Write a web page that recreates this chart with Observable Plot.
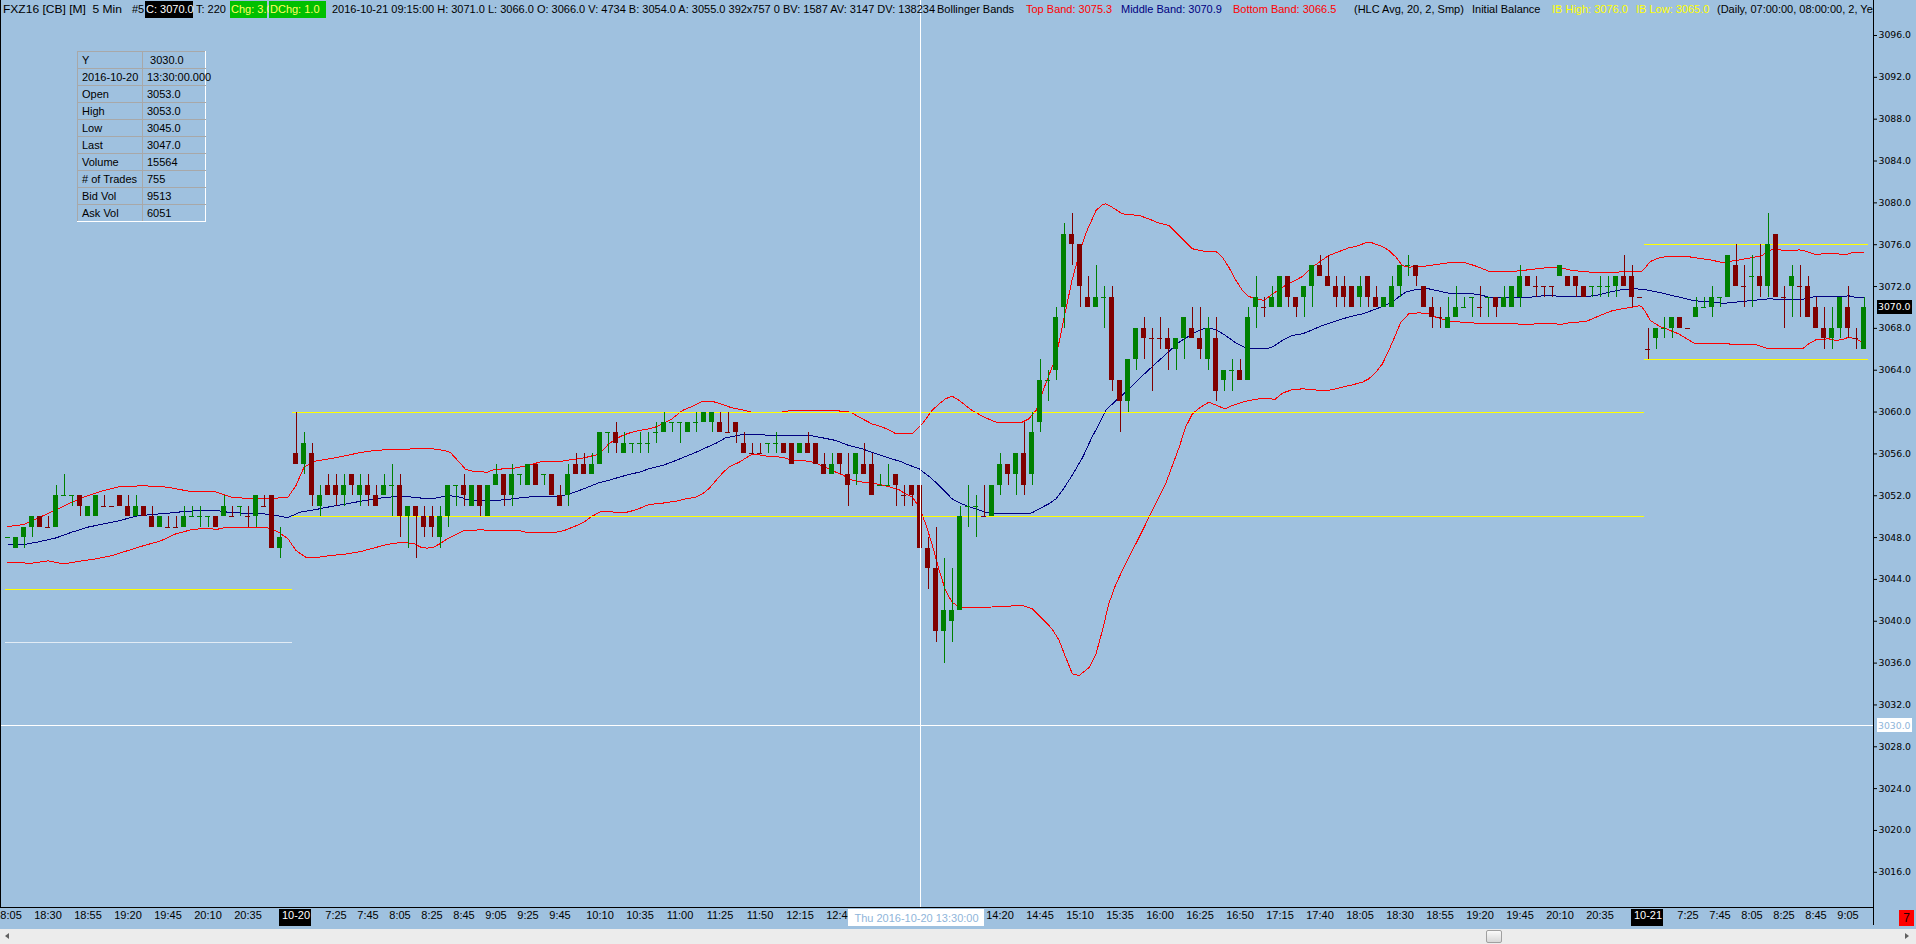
<!DOCTYPE html>
<html>
<head>
<meta charset="utf-8">
<script src="https://cdn.jsdelivr.net/npm/d3@7"></script>
<script src="https://cdn.jsdelivr.net/npm/@observablehq/plot@0.6"></script>
<style>
html, body { margin:0; padding:0; }
body { width:1916px; height:944px; overflow:hidden; position:relative; background:#9fc1df; font-family:"Liberation Sans", Arial, sans-serif; font-size:11px; }
#chart { position:absolute; left:0; top:0; }
#hdr { position:absolute; left:0; top:0; width:1873px; height:20px; overflow:hidden; white-space:nowrap; pointer-events:none; }
#hdr span { position:absolute; top:1px; height:17px; line-height:17px; font-size:11px; color:#000; white-space:pre; transform-origin:0 50%; }
#info { position:absolute; left:77px; top:51px; border-collapse:collapse; table-layout:fixed; width:129px; font-size:11px; }
#info td { border:1px solid #a8a8a8; height:16px; padding:0 0 0 4px; white-space:nowrap; overflow:visible; line-height:16px; color:#000; }
#info td:first-child { width:60px; }
#info tr td:last-child { border-right:1px solid #ffffff; }
#info tr:last-child td { border-bottom:1px solid #ffffff; }
#sb { position:absolute; left:0; top:929px; width:1916px; height:15px; background:#ececec; }
#thumb { position:absolute; left:1486px; top:1px; width:14px; height:11px; background:linear-gradient(#fafafa,#d8d8d8); border:1px solid #a0a0a0; border-radius:2px; }
#la { position:absolute; left:5px; top:4px; width:0; height:0; border-top:3px solid transparent; border-bottom:3px solid transparent; border-right:4px solid #606060; }
#ra { position:absolute; left:1905px; top:4px; width:0; height:0; border-top:3px solid transparent; border-bottom:3px solid transparent; border-left:4px solid #606060; }
#seven { position:absolute; left:1899px; top:910px; width:15px; height:16px; background:#ff0000; color:#200; font-size:12px; text-align:center; line-height:16px; }
</style>
</head>
<body>
<div id="chart"></div>
<div id="hdr">
<span data-w="119" style="left:3px">FXZ16 [CB] [M]  5 Min</span>
<span style="left:132px">#5</span>
<span style="left:145px;width:47px;background:#000;color:#fff;padding-left:1px">C: 3070.0</span>
<span style="left:196px">T: 220</span>
<span style="left:230px;width:36px;background:#00c000;color:#ffff60;padding-left:1px">Chg: 3.0</span>
<span style="left:269px;width:56px;background:#00c000;color:#ffff60;padding-left:1px">DChg: 1.0</span>
<span style="left:332px">2016-10-21 09:15:00 H: 3071.0 L: 3066.0 O: 3066.0 V: 4734 B: 3054.0 A: 3055.0 392x757 0 BV: 1587 AV: 3147 DV: 138234</span>
<span style="left:937px">Bollinger Bands</span>
<span style="left:1026px;color:#ff0000">Top Band: 3075.3</span>
<span style="left:1121px;color:#000080">Middle Band: 3070.9</span>
<span style="left:1233px;color:#ff0000">Bottom Band: 3066.5</span>
<span style="left:1354px">(HLC Avg, 20, 2, Smp)</span>
<span style="left:1472px">Initial Balance</span>
<span style="left:1552px;color:#ffff00">IB High: 3076.0</span>
<span style="left:1636px;color:#ffff00">IB Low: 3065.0</span>
<span style="left:1717px">(Daily, 07:00:00, 08:00:00, 2, Yes)</span>
</div>
<table id="info"></table>
<div id="seven">7</div>
<div id="sb"><div id="la"></div><div id="thumb"></div><div id="ra"></div></div>
<script>
// ---------------- DATA ----------------
const open = [
3048,3047,3048,3049,3050,3049,3049,3052,3052,3052,
3050,3050,3051,3051,3052,3051,3050,3051,3050,3049,
3049,3049,3049,3050,3050,3050,3050,3050,3050,3051,
3050,3050,3051,3052,3047,null,3056,3055,3056,3051,
3053,3053,3052,3054,3052,3053,3052,3052,3053,3053,
3050,3051,3050,3050,3048,3050,3053,3053,3051,3053,
3050,3053,3054,3052,3054,3053,3055,3054,3054,3052,
3052,3055,3055,3054,3055,3058,3058,3056,3057,3057,
3057,3058,3058,3059,3059,3058,3059,3059,3059,3059,
3058,3059,3057,3056,3056,3057,3057,3057,3057,3056,
3057,3057,3055,3054,3056,3054,3054,3055,3055,3053,
3053,3054,3052,3053,3053,3047,3045,3039,3040,3041,
3051,3051,3050,3050,3053,3055,3054,3056,3054,3059,
3063,3064,3070,3077,3076,3071,3070,3071,3071,3063,
3061,3065,3068,3067,3067,3067,3066,3067,3068,3067,
3065,3067,3063,3064,3064,3063,3070,3070,3070,3070,
3073,3071,3071,3072,3074,3073,3072,3072,3072,3071,
3073,3071,3070,3070,3072,3074,3074,3072,3070,3069,
3068,3069,3070,3071,3070,3071,3071,3070,3070,3071,
3073,3072,3072,3072,3073,3073,3073,3072,3072,3072,
3072,3072,3073,3073,3071,3066,3067,3068,3068,3069,
3068,3069,3070,3070,3071,3071,3074,3072,3073,3073,
3072,3077,3071,3072,3072,3072,3070,3068,3067,3068,
3070,3067,3066];
const high = [
3048,3048,3049,3050,3050,3050,3053,3054,3052,3052,
3051,3052,3052,3051,3052,3052,3052,3051,3051,3050,
3050,3050,3051,3051,3051,3050,3050,3052,3051,3051,
3051,3052,3052,3052,3049,null,3060,3058,3057,3053,
3054,3054,3054,3054,3054,3054,3053,3054,3055,3054,
3051,3051,3051,3051,3051,3053,3053,3054,3053,3053,
3053,3055,3054,3055,3054,3055,3055,3054,3054,3053,
3055,3056,3056,3056,3058,3058,3059,3058,3057,3058,
3058,3059,3060,3059,3059,3059,3060,3060,3060,3060,
3060,3059,3058,3057,3057,3057,3058,3057,3057,3057,
3058,3057,3056,3056,3056,3056,3056,3057,3056,3054,
3055,3054,3053,3053,3053,3048,3049,3046,3045,3051,
3053,3052,3053,3053,3056,3055,3056,3059,3060,3065,
3064,3070,3078,3079,3076,3073,3074,3072,3072,3063,
3065,3068,3069,3068,3069,3068,3067,3069,3070,3070,
3069,3069,3064,3065,3065,3070,3073,3071,3072,3073,
3073,3071,3072,3074,3075,3075,3073,3073,3072,3073,
3073,3072,3071,3073,3074,3075,3074,3072,3071,3070,
3071,3072,3071,3071,3072,3071,3071,3072,3072,3074,
3073,3073,3072,3072,3074,3073,3073,3072,3072,3073,
3073,3073,3075,3074,3071,3068,3068,3069,3069,3069,
3068,3071,3071,3072,3071,3075,3076,3074,3075,3076,
3079,3077,3072,3074,3074,3073,3071,3070,3070,3071,
3072,3068,3071];
const low = [
3048,3047,3047,3048,3049,3049,3049,3052,3051,3050,
3050,3050,3051,3051,3051,3050,3050,3050,3049,3049,
3049,3049,3049,3050,3049,3049,3049,3050,3050,3050,
3049,3049,3051,3047,3046,null,3055,3054,3051,3050,
3052,3051,3051,3052,3051,3051,3051,3052,3050,3048,
3047,3046,3048,3048,3047,3049,3051,3051,3051,3050,
3050,3053,3051,3051,3053,3053,3053,3053,3052,3051,
3051,3054,3054,3054,3055,3056,3056,3056,3056,3056,
3056,3057,3058,3058,3057,3058,3058,3059,3058,3058,
3058,3057,3056,3056,3056,3056,3056,3056,3055,3056,
3056,3055,3054,3054,3054,3051,3053,3054,3052,3053,
3053,3051,3051,3051,3045,3043,3038,3036,3038,3041,
3049,3048,3050,3050,3052,3053,3052,3052,3053,3058,
3061,3063,3068,3074,3070,3070,3070,3068,3062,3058,
3060,3064,3065,3062,3066,3064,3064,3065,3067,3065,
3064,3061,3062,3062,3063,3063,3068,3069,3070,3070,
3070,3069,3069,3070,3073,3072,3070,3070,3070,3070,
3070,3070,3070,3070,3071,3073,3072,3070,3068,3068,
3068,3069,3070,3069,3069,3069,3069,3070,3070,3070,
3072,3071,3071,3071,3073,3072,3071,3071,3071,3071,
3071,3071,3072,3070,3071,3065,3066,3067,3067,3068,
3068,3069,3070,3069,3070,3071,3072,3070,3070,3071,
3071,3071,3068,3069,3069,3069,3068,3066,3066,3067,
3067,3066,3066];
const close = [
3048,3048,3049,3050,3049,3049,3052,3052,3052,3051,
3051,3052,3051,3051,3051,3050,3051,3050,3049,3050,
3049,3049,3050,3050,3050,3050,3049,3051,3050,3051,
3050,3052,3051,3047,3048,null,3055,3057,3052,3052,
3052,3052,3053,3053,3053,3052,3051,3053,3053,3050,
3051,3050,3049,3049,3050,3053,3053,3052,3053,3051,
3053,3054,3052,3054,3054,3055,3053,3054,3052,3051,
3054,3054,3054,3055,3058,3058,3057,3057,3057,3057,
3057,3058,3059,3059,3059,3059,3059,3060,3060,3058,
3058,3058,3056,3056,3056,3057,3057,3056,3055,3057,
3056,3055,3054,3055,3055,3053,3056,3054,3052,3053,
3053,3053,3052,3052,3047,3045,3039,3041,3041,3050,
3051,3051,3050,3053,3055,3054,3056,3053,3058,3063,
3063,3069,3077,3076,3072,3070,3071,3071,3063,3061,
3065,3068,3067,3067,3067,3066,3067,3069,3067,3066,
3068,3062,3064,3064,3063,3069,3071,3070,3071,3073,
3071,3070,3072,3074,3073,3072,3071,3071,3070,3072,
3071,3070,3071,3072,3074,3074,3073,3070,3069,3069,
3069,3070,3070,3071,3070,3071,3070,3071,3072,3073,
3072,3072,3072,3072,3074,3072,3072,3071,3072,3072,
3072,3073,3072,3071,3071,3066,3068,3068,3069,3068,
3068,3070,3070,3071,3071,3075,3072,3072,3073,3072,
3076,3071,3071,3073,3072,3069,3068,3067,3068,3071,
3068,3067,3070];

// Bollinger band traces (bar index, price)
const topI = [0,2,4,6,8,10,12,14,17,20,23,26,28,30,33,35,36,37,38.3,40.8,44.1,45.8,47.8,50.8,53.2,54.5,55.3,56.6,57.2,58.3,59.9,60.8,63.3,64.9,66.6,68.7,70.3,72.0,73.7,74.3,75.1,76.0,76.8,77.6,78.9,80.1,80.9,81.8,83.0,84.3,85.5,86.8,88.0,89.3,90.5,91.8,93.0,96.6,97.6,103.7,105.3,106.8,108.0,109.3,110.1,111.0,113.05,114.3,115.5,116.4,117.2,118.0,118.9,120.5,122.2,123.5,124.3,126.8,127.6,128.5,129.7,131.0,132.2,133.0,133.9,134.7,136.0,136.8,137.2,138.0,139.3,141.4,142.6,143.9,145.1,146.4,148.05,149.7,151.0,151.8,152.6,153.5,154.3,155.1,156.0,157.0,158.0,159.3,160.5,161.8,163.05,163.9,165.1,166.4,167.6,168.5,169.7,170.5,171.8,172.6,173.5,174.3,175.1,176.0,177.2,178.5,180.1,182.2,183.5,185.1,188.5,189.7,191.0,192.2,193.5,194.3,195.1,196.4,198.9,201.0,201.8,203.5,204.2,204.7,205.3,206.4,207.6,209.7,210.5,211.8,212.6,213.5,214.3,215.1,216.0,217.6,219.3,220.1,221.0,221.8,223.05,223.9,224.7,226.0,226.8,228.5,229.7,230.5,232.0];
const topV = [3049.06,3049.25,3049.95,3050.65,3051.39,3052.02,3052.5,3052.88,3052.95,3052.82,3052.37,3052.37,3051.86,3051.74,3051.74,3051.86,3052.98,3054.73,3055.3,3055.62,3056.13,3056.33,3056.42,3056.48,3056.48,3056.33,3056.13,3055.05,3054.51,3054.32,3054.25,3054.51,3054.64,3054.89,3055.24,3055.24,3055.43,3055.62,3055.94,3056.32,3056.96,3057.44,3057.76,3057.98,3058.24,3058.4,3058.56,3058.87,3059.35,3060.15,3060.53,3061.04,3061.04,3060.72,3060.4,3060.21,3059.99,3059.99,3060.12,3060.12,3059.99,3059.35,3058.87,3058.56,3058.3,3057.92,3057.92,3058.87,3060.15,3060.79,3061.27,3061.52,3061.11,3060.15,3059.45,3059.04,3058.97,3059.04,3059.35,3060.15,3062.7,3065.25,3069.71,3072.58,3075.13,3077.04,3079.27,3079.81,3079.91,3079.59,3078.95,3078.79,3078.47,3078.06,3077.84,3076.88,3075.61,3075.35,3075.35,3074.81,3073.85,3072.58,3071.62,3071.05,3070.83,3070.67,3071.24,3071.94,3072.42,3072.96,3073.85,3074.33,3074.97,3075.35,3075.7,3075.83,3076.18,3076.18,3075.83,3075.45,3074.81,3074.01,3073.85,3073.92,3073.95,3074.11,3074.27,3074.27,3073.95,3073.47,3073.47,3073.57,3073.69,3073.79,3073.79,3073.76,3073.6,3073.47,3073.31,3073.31,3073.47,3073.47,3073.44,3073.85,3074.4,3074.74,3074.9,3074.87,3074.81,3074.65,3074.59,3074.43,3074.3,3074.4,3074.49,3074.71,3074.97,3075.45,3075.6,3075.45,3075.41,3075.51,3075.38,3075.06,3075.13,3075.13,3075.06,3075.22,3075.22];
const midI = [0,2,4,6,8,10,12,14,16,18,20,22,24,26,28,30,32,34,34.9,35.75,36.5,38.3,39.5,40.8,42.4,44.1,45.8,47.4,49.1,50.8,52.0,53.2,54.5,55.3,56.6,57.4,59.1,60.8,62.4,64.1,65.8,67.4,69.1,69.9,70.8,71.6,72.5,73.7,74.7,76.0,77.6,78.9,80.1,81.8,83.5,84.7,86.0,87.2,88.5,89.7,90.5,91.8,93.5,95.1,97.6,100.5,101.8,103.5,105.1,106.8,108.5,110.1,111.8,112.2,113.9,115.5,116.8,118.0,118.9,120.5,122.2,123.9,127.2,128.0,128.9,130.1,131.0,131.8,133.0,134.3,135.5,136.4,137.2,138.5,139.7,141.4,143.05,144.7,146.4,148.05,149.3,150.1,151.0,152.2,153.5,154.7,156.0,157.2,158.0,159.3,160.5,161.8,163.05,164.3,165.5,166.8,168.05,169.3,170.5,171.8,173.05,173.9,174.7,176.0,177.6,178.9,180.1,182.2,183.9,185.1,187.2,189.7,191.0,192.2,194.7,197.2,198.5,199.3,200.6,201.8,203.05,204.3,205.55,206.8,208.05,209.3,210.55,211.8,213.5,214.3,216.0,217.6,219.3,220.1,221.8,224.3,225.1,226.0,227.6,229.3,230.1,231.0,232.0];
const midV = [3047.34,3047.34,3047.62,3047.97,3048.52,3049.0,3049.31,3049.63,3050.05,3050.21,3050.33,3050.49,3050.59,3050.59,3050.37,3050.33,3050.27,3050.05,3049.89,3050.17,3050.43,3050.65,3050.84,3051.03,3051.23,3051.48,3051.7,3051.86,3051.93,3051.86,3051.74,3051.74,3051.93,3051.99,3051.86,3051.61,3051.54,3051.54,3051.64,3051.8,3051.93,3051.96,3051.96,3052.12,3052.34,3052.56,3052.82,3053.2,3053.39,3053.68,3054.03,3054.25,3054.57,3054.89,3055.37,3055.75,3056.16,3056.58,3057.02,3057.54,3057.66,3057.85,3057.85,3057.79,3057.79,3057.73,3057.54,3057.28,3056.8,3056.48,3056.01,3055.62,3055.21,3055.05,3054.57,3053.62,3052.66,3051.71,3051.32,3050.85,3050.43,3050.27,3050.27,3050.37,3050.75,3051.23,3051.71,3052.5,3053.93,3055.62,3057.6,3058.87,3060.15,3061.11,3061.9,3063.18,3064.36,3065.5,3066.68,3067.48,3067.93,3068.05,3067.86,3067.32,3066.59,3066.14,3066.04,3066.04,3066.2,3066.84,3067.32,3067.48,3067.86,3068.28,3068.59,3068.91,3069.17,3069.39,3069.71,3070.09,3070.51,3071.05,3071.46,3071.72,3071.78,3071.56,3071.37,3071.37,3071.24,3070.98,3070.98,3070.92,3071.05,3071.14,3071.05,3071.05,3071.14,3071.3,3071.53,3071.72,3071.78,3071.75,3071.56,3071.37,3071.14,3070.92,3070.67,3070.57,3070.51,3070.38,3070.51,3070.63,3070.76,3070.83,3070.76,3070.76,3070.92,3071.05,3071.05,3071.05,3071.11,3070.95,3070.92];
const botI = [0,3,5,7,9,11,13,15,17,19,21,23,25,26,27,30,32,33,34,35,36,37.2,38.3,40.3,42.4,44.1,45.8,47.4,49.1,49.9,50.8,51.6,52.4,53.2,54.1,54.9,55.8,57.0,59.1,60.8,64.1,64.9,68.3,69.5,70.8,72.0,72.8,74.1,75.1,76.0,77.2,78.5,80.1,81.8,83.5,84.7,86.0,86.8,87.6,88.5,89.3,90.1,91.4,92.6,93.0,93.9,95.1,96.8,98.0,100.1,101.0,102.2,103.5,104.3,105.6,106.8,108.5,110.1,111.4,112.2,113.05,113.9,114.7,115.5,116.4,117.2,118.0,118.9,122.6,126.8,128.05,129.7,130.5,131.4,132.2,133.05,133.9,135.2,136.0,136.8,137.6,138.5,139.7,141.4,143.05,144.7,146.4,147.2,148.05,148.9,150.1,151.4,152.2,153.05,153.9,155.1,156.4,157.6,158.3,159.3,160.5,161.8,163.05,164.3,165.5,166.8,168.05,169.3,170.1,171.0,171.8,172.6,173.5,174.1,175.1,176.4,177.6,178.5,180.1,181.8,183.5,185.1,186.0,188.5,189.7,191.0,193.5,193.9,195.1,197.2,198.05,199.3,200.6,201.8,203.05,203.9,204.2,204.7,205.3,206.4,207.6,208.8,210.05,210.9,213.5,214.3,216.0,218.5,220.1,224.3,225.1,226.0,227.6,228.5,229.3,230.1,231.0,232.0];
const botV = [3045.62,3045.55,3045.77,3045.49,3045.74,3045.97,3046.28,3046.76,3047.24,3047.66,3048.36,3048.77,3048.9,3048.77,3048.93,3049.0,3049.0,3048.84,3048.42,3047.88,3046.76,3046.13,3046.06,3046.28,3046.44,3046.67,3047.02,3047.34,3047.53,3047.5,3047.4,3047.08,3046.99,3047.08,3047.46,3047.88,3048.23,3048.67,3048.74,3048.67,3048.64,3048.49,3048.49,3048.67,3049.06,3049.47,3049.95,3050.49,3050.52,3050.4,3050.4,3050.65,3051.16,3051.29,3051.48,3051.7,3051.86,3052.18,3052.66,3053.46,3054.16,3054.73,3055.21,3055.78,3055.94,3055.91,3055.75,3055.69,3055.37,3055.31,3055.11,3054.73,3054.25,3054.0,3053.46,3053.3,3053.14,3052.88,3052.56,3052.18,3051.86,3050.91,3049.32,3047.4,3044.85,3042.94,3041.83,3041.35,3041.35,3041.51,3041.19,3039.92,3039.28,3038.16,3036.57,3034.97,3034.82,3035.61,3036.89,3039.12,3041.67,3043.58,3045.49,3048.04,3050.59,3053.14,3056.64,3058.56,3059.83,3060.37,3060.95,3060.53,3060.31,3060.63,3060.85,3061.11,3061.27,3061.33,3061.17,3061.81,3062.13,3062.22,3062.16,3062.03,3062.13,3062.38,3062.6,3062.86,3063.18,3063.82,3064.61,3065.89,3067.48,3068.59,3069.39,3069.49,3069.39,3069.07,3068.69,3068.59,3068.5,3068.5,3068.44,3068.44,3068.34,3068.44,3068.44,3068.34,3068.53,3068.66,3068.91,3069.33,3069.71,3069.87,3070.03,3070.16,3070.09,3069.55,3068.75,3068.21,3067.86,3067.48,3066.91,3066.52,3066.52,3066.59,3066.43,3066.43,3066.05,3066.05,3066.52,3066.91,3067.0,3066.84,3066.94,3067.16,3067.0,3066.59];

// Initial balance (per session): start/end bar, IB high, IB low
const ibStart = [-0.3, 35.56, 204.5];
const ibEnd   = [35.56, 204.5, 232.5];
const ibHigh  = [3043, 3060, 3076];
const ibLow   = [3038, 3050, 3065];

// time axis labels (bar index -> label); labels hidden under the cursor tag are omitted
const xTickIdx = [0,5,10,15,20,25,30,36,41,45,49,53,57,61,65,69,74,79,84,89,94,99,104,124,129,134,139,144,149,154,159,164,169,174,179,184,189,194,199,205,210,214,218,222,226,230];
const xTickLabels = ["18:05","18:30","18:55","19:20","19:45","20:10","20:35","10-20","7:25","7:45","8:05","8:25","8:45","9:05","9:25","9:45","10:10","10:35","11:00","11:25","11:50","12:15","12:40","14:20","14:45","15:10","15:35","16:00","16:25","16:50","17:15","17:40","18:05","18:30","18:55","19:20","19:45","20:10","20:35","10-21","7:25","7:45","8:05","8:25","8:45","9:05"];
const dayLabels = ["10-20","10-21"];
const yTicks = [3016,3020,3024,3028,3032,3036,3040,3044,3048,3052,3056,3060,3064,3068,3072,3076,3080,3084,3088,3092,3096];

// cursor
const crossI = 114, crossV = 3030, crossText = "Thu 2016-10-20 13:30:00";
const lastPrice = 3070;
const infoExtra = {date:"2016-10-20", time:"13:30:00.000", volume:"15564", trades:"755", bidVol:"9513", askVol:"6051"};

// ---------------- BUILD ----------------
const UP = "#008000", DN = "#800000";
const bars = [];
let prevC = null, prevUp = true;
for (let i = 0; i < open.length; i++) {
  if (open[i] == null) continue;
  const o = open[i], h = high[i], l = low[i], c = close[i];
  let up;
  if (c > o) up = true; else if (c < o) up = false;
  else if (prevC == null) up = true;
  else if (c > prevC) up = true; else if (c < prevC) up = false; else up = prevUp;
  bars.push({i, o, h, l, c, col: up ? UP : DN});
  prevC = c; prevUp = up;
}
const pts = (I, V) => I.map((i, k) => ({i, v: V[k]}));
const ib = ibStart.map((s, k) => ({a: s, b: ibEnd[k], hi: ibHigh[k], lo: ibLow[k], k}));
const HW = 0.3125;
const CR = "crispEdges";

const plot = Plot.plot({
  width: 1916, height: 929,
  marginLeft: 0, marginRight: 43, marginTop: 20, marginBottom: 22,
  x: {type: "linear", domain: [-0.9375, 233.1875], axis: null},
  y: {type: "linear", domain: [3012.635, 3097.434], axis: null, label: null},
  color: {type: "identity"},
  style: {background: "transparent", fontFamily: "DejaVu Sans", fontSize: "9.3px", color: "#000", overflow: "visible"},
  marks: [
    Plot.line(pts(topI, topV), {x: "i", y: "v", stroke: "#ff0000", strokeWidth: 1, shapeRendering: CR}),
    Plot.line(pts(botI, botV), {x: "i", y: "v", stroke: "#ff0000", strokeWidth: 1, shapeRendering: CR}),
    Plot.line(pts(midI, midV), {x: "i", y: "v", stroke: "#000080", strokeWidth: 1, shapeRendering: CR}),
    Plot.ruleY(ib, {y: "hi", x1: "a", x2: "b", stroke: "#ffff00", strokeWidth: 1, shapeRendering: CR}),
    Plot.ruleY(ib, {y: "lo", x1: "a", x2: "b", stroke: d => d.k === 0 ? "#e2ecf5" : "#ffff00", strokeWidth: 1, shapeRendering: CR}),
    Plot.ruleX(bars, {x: "i", y1: "l", y2: "h", stroke: "col", strokeWidth: 1, shapeRendering: CR}),
    Plot.rect(bars.filter(d => d.o !== d.c), {x1: d => d.i - HW, x2: d => d.i + HW, y1: "o", y2: "c", fill: "col", shapeRendering: CR}),
    Plot.ruleY(bars.filter(d => d.o === d.c), {y: "o", x1: d => d.i - HW, x2: d => d.i + HW, stroke: "col", strokeWidth: 1, shapeRendering: CR}),
    Plot.ruleX([crossI], {x: d => d, stroke: "#ffffff", strokeWidth: 1, insetTop: -20, shapeRendering: CR}),
    Plot.ruleY([crossV], {y: d => d, stroke: "#ffffff", strokeWidth: 1, shapeRendering: CR}),
    Plot.axisY(yTicks, {anchor: "right", tickSize: 3, tickPadding: 2, tickFormat: d => d.toFixed(1), label: null, fontFamily: "DejaVu Sans", fontSize: 9.3}),
    Plot.text(xTickIdx, {x: d => d, text: (d, k) => xTickLabels[k], frameAnchor: "bottom", dy: 11, fontFamily: "Liberation Sans", fontSize: 11, fill: "#000"})
  ]
});
document.getElementById("chart").append(plot);

// ---------------- decorations using the plot's scales ----------------
const svg = d3.select(plot);
const xs = plot.scale("x"), ys = plot.scale("y");
const fr = xs.range[1], fb = ys.range[0];
const deco = svg.append("g").attr("text-anchor", "start");

// day-change labels: black box, white text
svg.selectAll("text").filter(function () { return dayLabels.includes(this.textContent); }).attr("fill", "#fff");
xTickIdx.forEach((idx, k) => {
  if (!dayLabels.includes(xTickLabels[k])) return;
  const t = deco.append("text").attr("font-family", "Liberation Sans").attr("font-size", 11).text(xTickLabels[k]);
  const w = t.node().getComputedTextLength();
  t.remove();
  svg.insert("rect", ":first-child").attr("x", Math.round(xs.apply(idx) - w / 2 - 2)).attr("y", fb + 2)
    .attr("width", Math.round(w + 4)).attr("height", 17).attr("fill", "#000");
});

deco.append("line").attr("x1", 0).attr("x2", fr).attr("y1", fb + 0.5).attr("y2", fb + 0.5).attr("stroke", "#000");
deco.append("line").attr("x1", fr + 0.5).attr("x2", fr + 0.5).attr("y1", 0).attr("y2", fb + 18).attr("stroke", "#000");
deco.append("line").attr("x1", 0.5).attr("x2", 0.5).attr("y1", 0).attr("y2", fb).attr("stroke", "#000");

function ytag(v, bg, fg) {
  const y = ys.apply(v);
  deco.append("rect").attr("x", fr + 4).attr("y", Math.round(y) - 7).attr("width", 35).attr("height", 14).attr("fill", bg);
  deco.append("text").attr("x", fr + 5).attr("y", y).attr("dy", "0.35em").attr("fill", fg).attr("text-anchor", "start")
    .attr("font-family", "DejaVu Sans").attr("font-size", 9.3).text(v.toFixed(1));
}
ytag(lastPrice, "#000", "#fff");
ytag(crossV, "#fff", "#8fb5da");

const cx = xs.apply(crossI);
const ct = deco.append("text").attr("x", cx - 3).attr("y", fb + 11).attr("dy", "0.35em").attr("text-anchor", "middle")
  .attr("fill", "#8fb5da").attr("font-family", "Liberation Sans").attr("font-size", 11).text(crossText);
const cw = ct.node().getComputedTextLength();
deco.insert("rect", () => ct.node()).attr("x", Math.round(cx - 3 - cw / 2 - 6)).attr("y", fb + 2)
  .attr("width", Math.round(cw + 12)).attr("height", 17).attr("fill", "#fff");

// header segments with a measured width in the source picture
document.querySelectorAll("#hdr span[data-w]").forEach(s => {
  const nat = s.getBoundingClientRect().width;
  const target = +s.dataset.w;
  if (nat > 0) s.style.transform = `scaleX(${(target / nat).toFixed(4)})`;
});

// info table from the bar under the cursor
const cbar = bars.find(d => d.i === crossI);
const rows = [["Y", " " + crossV.toFixed(1)], [infoExtra.date, infoExtra.time], ["Open", cbar.o.toFixed(1)], ["High", cbar.h.toFixed(1)],
  ["Low", cbar.l.toFixed(1)], ["Last", cbar.c.toFixed(1)], ["Volume", infoExtra.volume], ["# of Trades", infoExtra.trades],
  ["Bid Vol", infoExtra.bidVol], ["Ask Vol", infoExtra.askVol]];
const tb = d3.select("#info");
rows.forEach(r => { const tr = tb.append("tr"); tr.append("td").text(r[0]); tr.append("td").style("white-space", "pre").text(r[1]); });
</script>
</body>
</html>
